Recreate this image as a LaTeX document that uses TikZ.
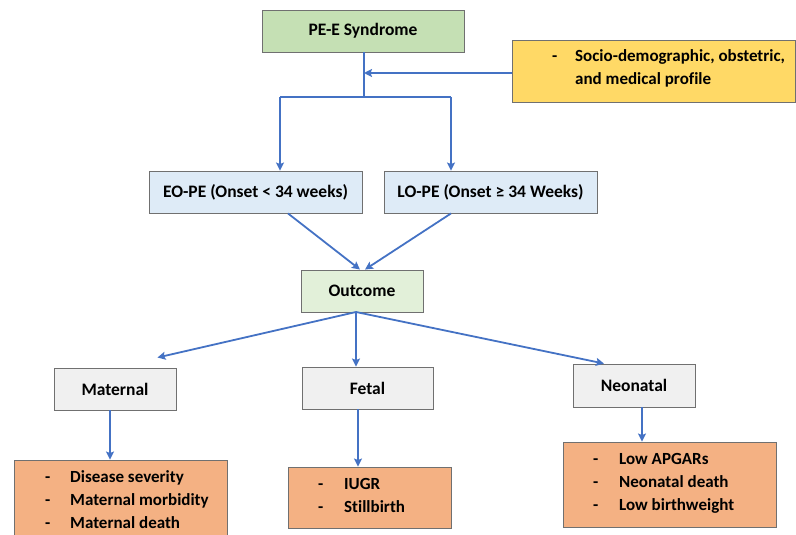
\documentclass[tikz,border=0pt]{standalone}
\usepackage{fontspec}
\setmainfont[Ligatures=NoCommon]{Carlito}
\usetikzlibrary{arrows.meta}
\definecolor{arrblue}{HTML}{4472C4}
\definecolor{bordergray}{HTML}{707070}
\definecolor{topgreen}{HTML}{C5E0B4}
\definecolor{outgreen}{HTML}{E2F0D9}
\definecolor{lblue}{HTML}{DEEBF7}
\definecolor{lgray}{HTML}{F0F0F0}
\definecolor{orng}{HTML}{F4B183}
\definecolor{yllw}{HTML}{FFD966}
\newcommand{\hdfont}{\bfseries\fontsize{17.5}{20}\selectfont}
\newcommand{\lsfont}{\bfseries\fontsize{17}{23}\selectfont}
\begin{document}
\begin{tikzpicture}[x=1pt,y=-1pt,
  box/.style={draw=bordergray, line width=0.9pt, inner sep=0pt, font=\hdfont},
  listtext/.style={inner sep=0pt, anchor=base west, font=\lsfont},
  ln/.style={draw=arrblue, line width=1.8pt},
  arr/.style={draw=arrblue, line width=1.8pt, -{Stealth[length=8pt,width=8pt,inset=1.5pt]}}]
\useasboundingbox (0,0) rectangle (796,535);
% boxes
\node[box, fill=topgreen, minimum width=202, minimum height=42] (pe) at (363,31) {PE-E Syndrome};
\node[box, fill=yllw, minimum width=283, minimum height=62] (socio) at (653.5,71) {};
\node[box, fill=lblue, minimum width=213, minimum height=42] (eo) at (255.5,192) {EO-PE (Onset < 34 weeks)};
\node[box, fill=lblue, minimum width=213, minimum height=42] (lo) at (490.5,192) {LO-PE (Onset ≥ 34 Weeks)};
\node[box, fill=outgreen, minimum width=122, minimum height=42] (out) at (362,291) {Outcome};
\node[box, fill=lgray, minimum width=122, minimum height=42] (mat) at (115,389) {Maternal};
\node[box, fill=lgray, minimum width=131, minimum height=42] (fet) at (367.5,388) {Fetal};
\node[box, fill=lgray, minimum width=122, minimum height=43] (neo) at (634,385.5) {Neonatal};
\node[box, fill=orng, minimum width=213, minimum height=82] (matl) at (120.5,501) {};
\node[box, fill=orng, minimum width=163, minimum height=61] (fetl) at (369.5,497.5) {};
\node[box, fill=orng, minimum width=213, minimum height=85] (neol) at (669.5,484.5) {};
% list texts
\node[listtext] (sociot) at (552,62) {\begin{tabular}[t]{@{}p{23pt}@{}l@{}}-&Socio-demographic, obstetric,\\ &and medical profile\end{tabular}};
\node[listtext] (matt) at (45,482) {\begin{tabular}[t]{@{}p{25pt}@{}l@{}}-&Disease severity\\-&Maternal morbidity\\-&Maternal death\end{tabular}};
\node[listtext] (fett) at (318,489) {\begin{tabular}[t]{@{}p{26pt}@{}l@{}}-&IUGR\\-&Stillbirth\end{tabular}};
\node[listtext] (neot) at (593,464) {\begin{tabular}[t]{@{}p{26pt}@{}l@{}}-&Low APGARs\\-&Neonatal death\\-&Low birthweight\end{tabular}};
% junction coordinates
\coordinate (ja) at (364,73);
\coordinate (jb) at (364,97);
\coordinate (jl) at (280,97);
\coordinate (jr) at (451,97);
\coordinate (os) at (356,312);
% connectors
\draw[ln] (pe.south -| jb) -- (jb);
\draw[arr] (socio.west |- ja) -- (ja);
\draw[ln] (jl) -- (jr);
\draw[arr] (jl) -- (jl |- eo.north);
\draw[arr] (jr) -- (jr |- lo.north);
\draw[arr] ([xshift=32.5pt]eo.south) -- ([xshift=-2pt]out.north);
\draw[arr] ([xshift=-39.5pt]lo.south) -- ([xshift=3pt]out.north);
\draw[arr] (os) -- ([xshift=-19pt,yshift=10pt]mat.north east);
\draw[arr] (os) -- (os |- fet.north);
\draw[arr] (os) -- ([xshift=-30pt]neo.north);
\draw[arr] ([xshift=-5pt]mat.south) -- ([xshift=-5pt]mat.south |- matl.north);
\draw[arr] ([xshift=-9.5pt]fet.south) -- ([xshift=-9.5pt]fet.south |- fetl.north);
\draw[arr] ([xshift=8pt]neo.south) -- ([xshift=8pt]neo.south |- neol.north);
\end{tikzpicture}
\end{document}
